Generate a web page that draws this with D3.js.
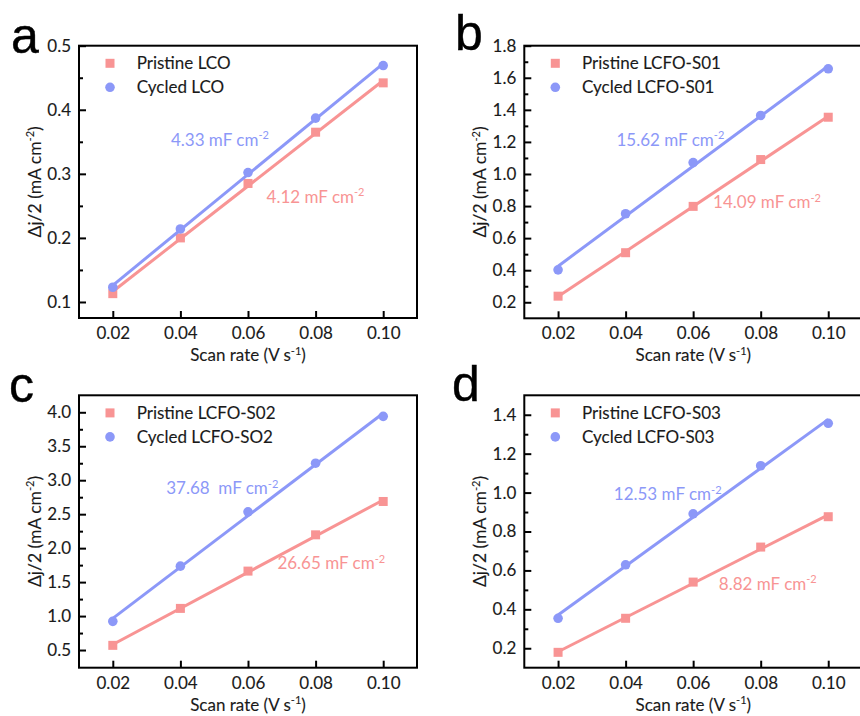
<!DOCTYPE html>
<html><head><meta charset="utf-8">
<script src="https://cdn.jsdelivr.net/npm/d3@7"></script>
<style>body{margin:0;background:#fff}svg{display:block}</style>
</head><body>
<svg id="chart" width="860" height="716"></svg>
<script>
// ---- data ----
const scanRates = [0.02, 0.04, 0.06, 0.08, 0.10];
const xTickValues = [0.02, 0.04, 0.06, 0.08, 0.10];

const pristineLCO = [0.113, 0.200, 0.285, 0.365, 0.442];
const cycledLCO   = [0.123, 0.214, 0.302, 0.387, 0.469];
const pristineS01 = [0.238, 0.509, 0.798, 1.090, 1.354];
const cycledS01   = [0.402, 0.752, 1.071, 1.365, 1.656];
const pristineS02 = [0.569, 1.113, 1.662, 2.196, 2.687];
const cycledS02   = [0.922, 1.735, 2.534, 3.250, 3.940];
const pristineS03 = [0.179, 0.354, 0.540, 0.720, 0.876];
const cycledS03   = [0.354, 0.629, 0.891, 1.138, 1.356];

const panelLetters = ["a", "b", "c", "d"];
const pristineNames = ["Pristine LCO", "Pristine LCFO-S01", "Pristine LCFO-S02", "Pristine LCFO-S03"];
const cycledNames   = ["Cycled LCO", "Cycled LCFO-S01", "Cycled LCFO-SO2", "Cycled LCFO-S03"];
const pristineSlopes = ["4.12 mF cm", "14.09 mF cm", "26.65 mF cm", "8.82 mF cm"];
const cycledSlopes   = ["4.33 mF cm", "15.62 mF cm", "37.68\u00A0 mF cm", "12.53 mF cm"];
const yMajorTicks = [
  [0.1, 0.2, 0.3, 0.4, 0.5],
  [0.2, 0.4, 0.6, 0.8, 1.0, 1.2, 1.4, 1.6, 1.8],
  [0.5, 1.0, 1.5, 2.0, 2.5, 3.0, 3.5, 4.0],
  [0.2, 0.4, 0.6, 0.8, 1.0, 1.2, 1.4]
];
const yMinorTicks = [
  [0.15, 0.25, 0.35, 0.45],
  [0.3, 0.5, 0.7, 0.9, 1.1, 1.3, 1.5, 1.7],
  [0.75, 1.25, 1.75, 2.25, 2.75, 3.25, 3.75],
  [0.3, 0.5, 0.7, 0.9, 1.1, 1.3]
];
const yDomains = [[0.075, 0.5], [0.1, 1.8], [0.24, 4.25], [0.1, 1.5]];
const pristineSeries = [pristineLCO, pristineS01, pristineS02, pristineS03];
const cycledSeries = [cycledLCO, cycledS01, cycledS02, cycledS03];

// ---- layout / style ----
const boxes = [
  {left: 79,    right: 417, top: 45.7,  bottom: 318},
  {left: 524.3, right: 862, top: 45.7,  bottom: 318.3},
  {left: 79,    right: 417, top: 395.3, bottom: 667.7},
  {left: 524.3, right: 862, top: 395.3, bottom: 667.7}
];
// annotation anchors in data units [x, y]
const cycledLabelPos   = [[0.0372, 0.344], [0.0373, 1.175], [0.0358, 2.79], [0.0365, 0.96]];
const pristineLabelPos = [[0.0655, 0.255], [0.0659, 0.787], [0.0687, 1.687], [0.0676, 0.50]];
const letterPos = [[11, 53], [455, 50], [9, 402], [452, 401]];

const PINK = "#F89494", BLUE = "#8C98F8";
const FONT = "Lato, 'Open Sans', sans-serif";
const FS = 17;
const svg = d3.select("#chart");

function lsq(xs, ys) {
  const n = xs.length, mx = d3.mean(xs), my = d3.mean(ys);
  let sxy = 0, sxx = 0;
  for (let i = 0; i < n; i++) { sxy += (xs[i]-mx)*(ys[i]-my); sxx += (xs[i]-mx)**2; }
  const b = sxy / sxx; return {b, a: my - b*mx};
}

function supText(sel, main, sup, tail, size, supSize) {
  sel.append("tspan").text(main);
  sel.append("tspan").attr("dy", -size*0.38).attr("font-size", supSize).text(sup);
  if (tail) sel.append("tspan").attr("dy", size*0.38).text(tail);
}
function styleText(sel, col) {
  sel.attr("font-family", FONT).attr("font-size", FS).attr("fill", col)
    .attr("stroke", col).attr("stroke-width", 0.12);
}

boxes.forEach((bx, i) => {
  const g = svg.append("g");
  const x = d3.scaleLinear().domain([0.01, 0.11]).range([bx.left, bx.right]);
  const y = d3.scaleLinear().domain(yDomains[i]).range([bx.bottom, bx.top]);

  // frame
  g.append("rect").attr("x", bx.left).attr("y", bx.top)
    .attr("width", bx.right - bx.left).attr("height", bx.bottom - bx.top)
    .attr("fill", "none").attr("stroke", "#000").attr("stroke-width", 2);

  // x axis (ticks inward)
  const xAxis = d3.axisBottom(x).tickValues(xTickValues).tickFormat(d3.format(".2f"))
    .tickSizeInner(-7).tickSizeOuter(0).tickPadding(9);
  const gx = g.append("g").attr("transform", `translate(0,${bx.bottom})`).call(xAxis);
  gx.select(".domain").remove();
  gx.selectAll(".tick line").attr("stroke", "#000").attr("stroke-width", 2);
  gx.selectAll(".tick text").call(styleText, "#1a1a1a");

  // y axis major
  const yAxis = d3.axisLeft(y).tickValues(yMajorTicks[i]).tickFormat(d3.format(".1f"))
    .tickSizeInner(-7).tickSizeOuter(0).tickPadding(8);
  const gy = g.append("g").attr("transform", `translate(${bx.left},0)`).call(yAxis);
  gy.select(".domain").remove();
  gy.selectAll(".tick line").attr("stroke", "#000").attr("stroke-width", 2);
  gy.selectAll(".tick text").call(styleText, "#1a1a1a");
  // y minor
  const gym = g.append("g").attr("transform", `translate(${bx.left},0)`)
    .call(d3.axisLeft(y).tickValues(yMinorTicks[i]).tickFormat("").tickSizeInner(-4).tickSizeOuter(0));
  gym.select(".domain").remove();
  gym.selectAll(".tick line").attr("stroke", "#000").attr("stroke-width", 2);

  // axis titles
  const xt = g.append("text").attr("x", bx.left + 169).attr("y", bx.bottom + 43)
    .attr("text-anchor", "middle").call(styleText, "#1a1a1a");
  supText(xt, "Scan rate (V s", "-1", ")", FS, 11);
  const yt = g.append("text")
    .attr("transform", `translate(${bx.left - 38},${(bx.top + bx.bottom) / 2}) rotate(-90)`)
    .attr("text-anchor", "middle").call(styleText, "#1a1a1a").attr("font-size", 17.5);
  supText(yt, "\u0394j/2 (mA cm", "-2", ")", 17.5, 11);

  // fits + markers
  [[pristineSeries[i], PINK, "square"], [cycledSeries[i], BLUE, "circle"]].forEach(([vals, col, shape]) => {
    const f = lsq(scanRates, vals);
    const x0 = d3.min(scanRates), x1 = d3.max(scanRates);
    g.append("line").attr("x1", x(x0)).attr("y1", y(f.a + f.b*x0))
      .attr("x2", x(x1)).attr("y2", y(f.a + f.b*x1))
      .attr("stroke", col).attr("stroke-width", 3);
    const pts = scanRates.map((s, k) => [s, vals[k]]);
    if (shape === "square") {
      g.selectAll(null).data(pts).enter().append("rect")
        .attr("x", d => x(d[0]) - 4.5).attr("y", d => y(d[1]) - 4.5)
        .attr("width", 9).attr("height", 9).attr("fill", col);
    } else {
      g.selectAll(null).data(pts).enter().append("circle")
        .attr("cx", d => x(d[0])).attr("cy", d => y(d[1])).attr("r", 4.8).attr("fill", col);
    }
  });

  // legend
  const lx = bx.left + 31, ly1 = bx.top + 17.6, ly2 = bx.top + 41.6;
  g.append("rect").attr("x", lx - 4.5).attr("y", ly1 - 4.5).attr("width", 9).attr("height", 9).attr("fill", PINK);
  g.append("circle").attr("cx", lx).attr("cy", ly2).attr("r", 4.8).attr("fill", BLUE);
  g.append("text").attr("x", bx.left + 57.7).attr("y", ly1 + 6).call(styleText, "#1a1a1a").text(pristineNames[i]);
  g.append("text").attr("x", bx.left + 57.7).attr("y", ly2 + 6).call(styleText, "#1a1a1a").text(cycledNames[i]);

  // slope annotations
  const ct = g.append("text").attr("x", x(cycledLabelPos[i][0])).attr("y", y(cycledLabelPos[i][1]))
    .call(styleText, BLUE).attr("stroke-width", 0);
  supText(ct, cycledSlopes[i], "-2", null, FS, 11);
  const pt = g.append("text").attr("x", x(pristineLabelPos[i][0])).attr("y", y(pristineLabelPos[i][1]))
    .call(styleText, PINK).attr("stroke-width", 0);
  supText(pt, pristineSlopes[i], "-2", null, FS, 11);

  // panel letter
  svg.append("text").attr("x", letterPos[i][0]).attr("y", letterPos[i][1])
    .attr("font-family", "'Liberation Sans', Arial, sans-serif").attr("font-size", 50)
    .attr("fill", "#000").attr("stroke", "#000").attr("stroke-width", 0.4).text(panelLetters[i]);
});
</script>
</body></html>
